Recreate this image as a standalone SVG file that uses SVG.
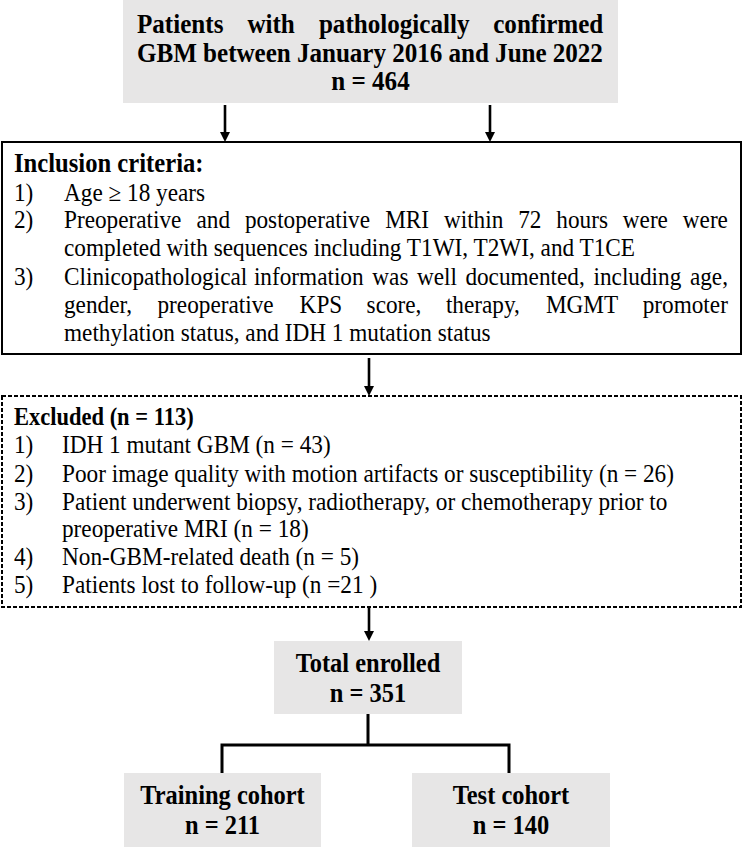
<svg xmlns="http://www.w3.org/2000/svg" width="744" height="847" viewBox="0 0 744 847">
<defs>
<style>
.t{font-family:"Liberation Serif","Times New Roman",serif;fill:#000}
.b{font-weight:bold}
.big{font-size:27px}
.mid{font-size:26.3px}
.reg{font-size:25px}
.gray{fill:#e7e6e6;stroke:none}
.box{fill:#fff;stroke:#000;stroke-width:2}
.dash{fill:#fff;stroke:#000;stroke-width:2;stroke-dasharray:4 2}
.line{fill:none;stroke:#000;stroke-width:3}
.arr{fill:none;stroke:#000;stroke-width:2.6;marker-end:url(#ah)}
</style>
<marker id="ah" viewBox="0 0 10 10" refX="0" refY="5" markerWidth="10" markerHeight="10" markerUnits="userSpaceOnUse" orient="auto">
<path d="M0,0 L10,5 L0,10 z" fill="#000"/>
</marker>
</defs>

<g id="connectors">
<line class="arr" x1="225" y1="105" x2="225" y2="132"/>
<line class="arr" x1="490" y1="105" x2="490" y2="132"/>
<line class="arr" x1="369" y1="358" x2="369" y2="386"/>
<line class="arr" x1="369" y1="608" x2="369" y2="631"/>
<path class="line" d="M368,714 V745 M222,745 H509 M222,743.5 V773 M509,743.5 V773"/>
</g>

<g id="patients">
<rect class="gray" x="123" y="0" width="495" height="103"/>
<g transform="scale(0.93,1)">
<text class="t b big" y="33"><tspan x="147.31">Patients</tspan><tspan x="266.02">with</tspan><tspan x="342.9">pathologically</tspan><tspan x="530.32">confirmed</tspan></text>
<text class="t b big" x="147.31" y="62" textLength="501" lengthAdjust="spacing">GBM between January 2016 and June 2022</text>
<text class="t b big" x="398.39" y="90" text-anchor="middle">n = 464</text>
</g>
</g>

<g id="inclusion">
<rect class="box" x="2" y="142" width="739" height="212"/>
<g transform="scale(0.93,1)">
<text class="t b" x="15.05" y="172" font-size="26.5">Inclusion criteria:</text>
<text class="t reg" x="15.05" y="201.5">1)</text>
<text class="t reg" x="68.82" y="201.5">Age ≥ 18 years</text>
<text class="t reg" x="15.05" y="228.5">2)</text>
<text class="t reg" y="228.5"><tspan x="68.82">Preoperative</tspan><tspan x="211.29">and</tspan><tspan x="263.33">postoperative</tspan><tspan x="414.19">MRI</tspan><tspan x="477.31">within</tspan><tspan x="557.2">72</tspan><tspan x="598.17">hours</tspan><tspan x="669.68">were</tspan><tspan x="734.19">were</tspan></text>
<text class="t reg" x="68.82" y="256.5">completed with sequences including T1WI, T2WI, and T1CE</text>
<text class="t reg" x="15.05" y="285">3)</text>
<text class="t reg" y="285"><tspan x="68.82">Clinicopathological</tspan><tspan x="273.01">information</tspan><tspan x="400.32">was</tspan><tspan x="448.28">well</tspan><tspan x="500.43">documented,</tspan><tspan x="638.17">including</tspan><tspan x="741.83">age,</tspan></text>
<text class="t reg" y="313"><tspan x="68.82">gender,</tspan><tspan x="169.35">preoperative</tspan><tspan x="322.15">KPS</tspan><tspan x="394.19">score,</tspan><tspan x="479.46">therapy,</tspan><tspan x="586.99">MGMT</tspan><tspan x="691.08">promoter</tspan></text>
<text class="t reg" x="68.82" y="341">methylation status, and IDH 1 mutation status</text>
</g>
</g>

<g id="excluded">
<rect class="dash" x="2" y="396" width="739" height="211"/>
<g transform="scale(0.93,1)">
<text class="t b" x="15.05" y="425" font-size="24.2">Excluded (n = 113)</text>
<text class="t reg" x="15.05" y="453">1)</text>
<text class="t reg" x="66.67" y="453">IDH 1 mutant GBM (n = 43)</text>
<text class="t reg" x="15.05" y="482">2)</text>
<text class="t reg" x="66.67" y="482">Poor image quality with motion artifacts or susceptibility (n = 26)</text>
<text class="t reg" x="15.05" y="510">3)</text>
<text class="t reg" x="66.67" y="510">Patient underwent biopsy, radiotherapy, or chemotherapy prior to</text>
<text class="t reg" x="66.67" y="537.5">preoperative MRI (n = 18)</text>
<text class="t reg" x="15.05" y="565.5">4)</text>
<text class="t reg" x="66.67" y="565.5">Non-GBM-related death (n = 5)</text>
<text class="t reg" x="15.05" y="593.5">5)</text>
<text class="t reg" x="66.67" y="593.5">Patients lost to follow-up (n =21 )</text>
</g>
</g>

<g id="total">
<rect class="gray" x="274" y="641" width="188" height="73"/>
<g transform="scale(0.93,1)">
<text class="t b mid" x="395.7" y="672" text-anchor="middle">Total enrolled</text>
<text class="t b mid" x="395.7" y="702" text-anchor="middle">n = 351</text>
</g>
</g>

<g id="training">
<rect class="gray" x="124" y="773" width="197" height="74"/>
<g transform="scale(0.93,1)">
<text class="t b mid" x="239.25" y="804" text-anchor="middle">Training cohort</text>
<text class="t b mid" x="239.25" y="834" text-anchor="middle">n = 211</text>
</g>
</g>

<g id="test">
<rect class="gray" x="412" y="773" width="198" height="74"/>
<g transform="scale(0.93,1)">
<text class="t b mid" x="549.46" y="804" text-anchor="middle">Test cohort</text>
<text class="t b mid" x="549.46" y="834" text-anchor="middle">n = 140</text>
</g>
</g>
</svg>
